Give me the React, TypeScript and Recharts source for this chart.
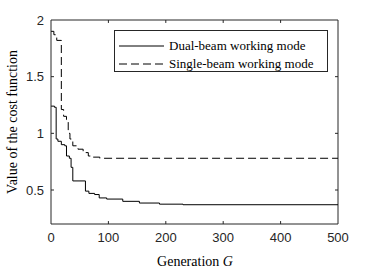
import { LineChart, Line, XAxis, YAxis, ReferenceLine } from 'recharts';

const INK = '#262626';
const SERIF = '"Liberation Serif", "Times New Roman", serif';
const SANS = '"Liberation Sans", Arial, Helvetica, sans-serif';

// generation / cost pairs (staircase convergence)
const dualGen = [0, 6, 9, 12, 18, 24, 27, 32, 35, 38, 60, 66, 76, 84, 97, 125, 154, 189, 230, 500];
const dualCost = [1.24, 1.23, 0.95, 0.93, 0.9, 0.89, 0.8, 0.78, 0.7, 0.58, 0.49, 0.47, 0.46, 0.43, 0.42, 0.4, 0.385, 0.375, 0.37, 0.37];

const singleGen = [0, 5, 10, 18, 22, 27, 30, 33, 38, 47, 56, 65, 73, 85, 500];
const singleCost = [1.9, 1.87, 1.82, 1.21, 1.15, 1.12, 1.0, 0.95, 0.89, 0.86, 0.83, 0.8, 0.79, 0.78, 0.78];

const xTicks = [0, 100, 200, 300, 400, 500];
const yTicks = [0.5, 1, 1.5, 2];
const X_MIN = 0;
const X_MAX = 500;
const Y_MIN = 0.2;
const Y_MAX = 2;
// inward tick length (~3px) in data units
const TX = 5.2;
const TY = 0.026;

const dualData = dualGen.map((g, i) => ({ g, v: dualCost[i] }));
const singleData = singleGen.map((g, i) => ({ g, v: singleCost[i] }));

function LegendBox() {
  const row = (dash: string | undefined, label: string, y: number) => (
    <div style={{ position: 'absolute', left: 0, top: y, display: 'flex', alignItems: 'center' }}>
      <svg width={50} height={10} style={{ display: 'block' }}>
        <line x1={4} y1={5} x2={49} y2={5} stroke="#000" strokeWidth={1} strokeDasharray={dash} />
      </svg>
      <span style={{ marginLeft: 4, fontFamily: SERIF, fontSize: 13, color: '#000', whiteSpace: 'nowrap' }}>{label}</span>
    </div>
  );
  return (
    <div style={{ position: 'absolute', left: 114, top: 30, width: 214, height: 42, border: `1px solid ${INK}`, background: '#fff', boxSizing: 'border-box' }}>
      {row(undefined, 'Dual-beam working mode', 7)}
      {row('8 4', 'Single-beam working mode', 25)}
    </div>
  );
}

function AxisTitles() {
  return (
    <svg width={374} height={271} style={{ position: 'absolute', left: 0, top: 0, pointerEvents: 'none' }}>
      <text x={195} y={266} textAnchor="middle" fontFamily={SERIF} fontSize={14} fill="#000">
        Generation <tspan fontStyle="italic">G</tspan>
      </text>
      <text
        x={17}
        y={122}
        textAnchor="middle"
        fontFamily={SERIF}
        fontSize={14}
        fill="#000"
        transform="rotate(-90 17 122)"
      >
        Value of the cost function
      </text>
    </svg>
  );
}

export default function App() {
  return (
    <div style={{ position: 'absolute', left: 0, top: 0, width: 374, height: 271, background: '#fff' }}>
      <LineChart
        width={374}
        height={271}
        data={dualData}
        margin={{ top: 20, right: 36, bottom: 0, left: 0 }}
      >
        <XAxis
          type="number"
          dataKey="g"
          domain={[X_MIN, X_MAX]}
          ticks={xTicks}
          height={47}
          stroke={INK}
          tickLine={false}
          tickSize={0}
          tickMargin={9}
          tick={{ fill: INK, fontSize: 13, fontFamily: SANS }}
        />
        <YAxis
          type="number"
          domain={[Y_MIN, Y_MAX]}
          ticks={yTicks}
          width={51}
          stroke={INK}
          tickLine={false}
          tickSize={0}
          tickMargin={7}
          tick={{ fill: INK, fontSize: 13, fontFamily: SANS }}
        />
        {/* close the box: top and right edges */}
        <ReferenceLine y={Y_MAX} stroke={INK} />
        <ReferenceLine x={X_MAX} stroke={INK} />
        {/* inward ticks on all four sides */}
        {xTicks.slice(1, -1).map((t) => (
          <ReferenceLine key={'b' + t} segment={[{ x: t, y: Y_MIN }, { x: t, y: Y_MIN + TY }]} stroke={INK} />
        ))}
        {xTicks.slice(1, -1).map((t) => (
          <ReferenceLine key={'t' + t} segment={[{ x: t, y: Y_MAX }, { x: t, y: Y_MAX - TY }]} stroke={INK} />
        ))}
        {yTicks.slice(0, -1).map((t) => (
          <ReferenceLine key={'l' + t} segment={[{ x: X_MIN, y: t }, { x: X_MIN + TX, y: t }]} stroke={INK} />
        ))}
        {yTicks.slice(0, -1).map((t) => (
          <ReferenceLine key={'r' + t} segment={[{ x: X_MAX, y: t }, { x: X_MAX - TX, y: t }]} stroke={INK} />
        ))}
        <Line
          dataKey="v"
          type="stepAfter"
          stroke="#000"
          strokeWidth={1}
          dot={false}
          isAnimationActive={false}
        />
        <Line
          data={singleData}
          dataKey="v"
          type="stepAfter"
          stroke="#000"
          strokeWidth={1}
          strokeDasharray="8 4"
          dot={false}
          isAnimationActive={false}
        />
      </LineChart>
      <AxisTitles />
      <LegendBox />
    </div>
  );
}
